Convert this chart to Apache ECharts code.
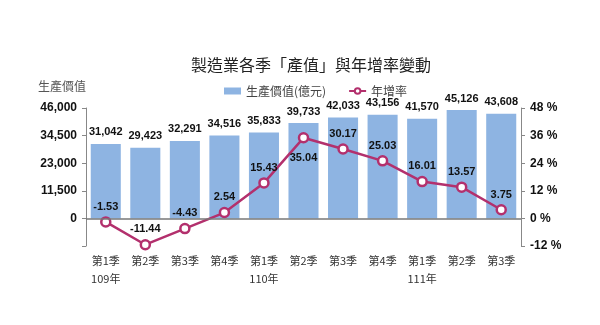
<!DOCTYPE html>
<html>
<head>
<meta charset="utf-8">
<script src="https://cdn.jsdelivr.net/npm/echarts@6/dist/echarts.min.js"></script>
<style>html,body{margin:0;padding:0;background:#fff;}#c{width:600px;height:325px;}</style>
</head>
<body>
<div id="c"></div>
<script>
const quarters = ['第1季','第2季','第3季','第4季','第1季','第2季','第3季','第4季','第1季','第2季','第3季'];
const years = ['109年','','','','110年','','','','111年','',''];
const outputValues = [31042, 29423, 32291, 34516, 35833, 39733, 42033, 43156, 41570, 45126, 43608];
const growthRates = [-1.53, -11.44, -4.43, 2.54, 15.43, 35.04, 30.17, 25.03, 16.01, 13.57, 3.75];
const leftTicks = [-11500, 0, 11500, 23000, 34500, 46000];
const rightTicks = [-12, 0, 12, 24, 36, 48];
const belowLabelIdx = [5];

const numFont = "'Liberation Sans Narrow', 'Arial Narrow', 'Liberation Sans', Arial, sans-serif";
const cjkFont = "'Noto Sans CJK TC', 'Noto Sans CJK SC', sans-serif";
const chart = echarts.init(document.getElementById('c'), null, {renderer: 'canvas'});
chart.setOption({
  animation: false,
  backgroundColor: '#fff',
  title: {
    text: '製造業各季「產值」與年增率變動',
    left: 306, top: 52, textAlign: 'center',
    textStyle: {fontFamily: cjkFont, fontSize: 16, fontWeight: 'normal', color: '#222'}
  },
  legend: {
    left: 219, top: 80, itemGap: 22,
    textStyle: {fontFamily: cjkFont, fontSize: 12, color: '#444'},
    data: [
      {name: '生產價值(億元)', icon: 'rect'},
      {name: '年增率'}
    ],
    itemWidth: 17, itemHeight: 7
  },
  grid: {left: 86, right: 79, top: 108, bottom: 79},
  xAxis: {
    type: 'category',
    data: quarters,
    axisLine: {show: false, onZero: false},
    axisTick: {show: false},
    axisLabel: {
      margin: 6,
      lineHeight: 18,
      fontFamily: cjkFont, fontSize: 11, color: '#333',
      formatter: function (v, i) { return years[i] ? v + '\n' + years[i] : v; }
    }
  },
  yAxis: [
    {
      type: 'value', min: leftTicks[0], max: leftTicks[leftTicks.length - 1], interval: 11500,
      name: '生產價值', nameLocation: 'end', nameGap: 16,
      nameTextStyle: {fontFamily: cjkFont, fontSize: 12, color: '#555', align: 'right'},
      axisLine: {show: true, lineStyle: {color: '#888'}},
      axisTick: {show: true, length: 4, lineStyle: {color: '#888'}},
      splitLine: {show: false},
      axisLabel: {
        margin: 9, fontFamily: numFont, fontSize: 12, fontWeight: 'bold', color: '#111',
        formatter: function (v) { return v < 0 ? '' : v.toLocaleString('en-US'); }
      }
    },
    {
      type: 'value', min: rightTicks[0], max: rightTicks[rightTicks.length - 1], interval: 12,
      position: 'right',
      axisLine: {show: true, lineStyle: {color: '#888'}},
      axisTick: {show: true, length: 4, lineStyle: {color: '#888'}},
      splitLine: {show: false},
      axisLabel: {
        margin: 9, fontFamily: numFont, fontSize: 12, fontWeight: 'bold', color: '#111',
        formatter: '{value} %'
      }
    }
  ],
  series: [
    {
      name: '生產價值(億元)', type: 'bar', yAxisIndex: 0,
      data: outputValues,
      barWidth: '76%',
      itemStyle: {color: '#8EB4E2'},
      label: {
        show: true, position: 'top', distance: 6,
        fontFamily: numFont, fontSize: 11, fontWeight: 'bold', color: '#111',
        formatter: function (p) { return p.value.toLocaleString('en-US'); }
      },
      markLine: {
        silent: true, symbol: 'none', label: {show: false},
        lineStyle: {color: '#777', width: 1.5, type: 'solid'},
        data: [{yAxis: 0}]
      }
    },
    {
      name: '年增率', type: 'line', yAxisIndex: 1,
      data: growthRates.map(function (v, i) {
        return belowLabelIdx.indexOf(i) >= 0 ? {value: v, label: {position: 'bottom', distance: 9}} : v;
      }),
      symbol: 'circle', symbolSize: 9,
      lineStyle: {color: '#B3306D', width: 2.5},
      itemStyle: {color: '#fff', borderColor: '#B3306D', borderWidth: 2.5},
      label: {
        show: true, position: 'top', distance: 4,
        fontFamily: numFont, fontSize: 11, fontWeight: 'bold', color: '#111',
        formatter: function (p) { return p.value.toFixed(2); }
      },
      z: 3
    }
  ]
});
</script>
</body>
</html>
